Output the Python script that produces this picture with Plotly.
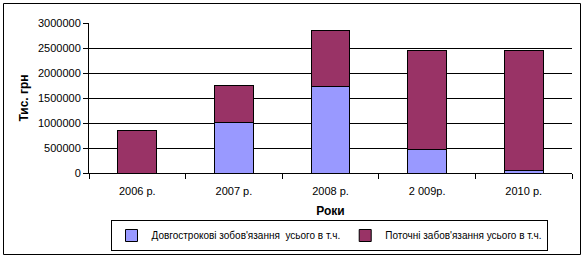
import plotly.graph_objects as go

years = ["2006 р.", "2007 р.", "2008 р.", "2 009р.", "2010 р."]
long_term = [0, 1010000, 1730000, 470000, 55000]
current = [860000, 740000, 1120000, 1980000, 2395000]
names = ["Довгострокові зобов'язання  усього в т.ч.", "Поточні забов'язання усього в т.ч."]

W, H = 585, 259
L, R, T, B = 89, 13, 23, 86
pw, ph = W - L - R, H - T - B

fig = go.Figure()
fig.add_bar(x=years, y=long_term, name=names[0], marker=dict(color="#9999FF", line=dict(color="black", width=1)))
fig.add_bar(x=years, y=current, name=names[1], marker=dict(color="#993366", line=dict(color="black", width=1)))

def px(x):
    return (x - L) / pw

def py(y):
    return (H - B - y) / ph

fig.update_layout(
    width=W, height=H, barmode="stack", bargap=0.6,
    margin=dict(l=L, r=R, t=T, b=B, autoexpand=False),
    paper_bgcolor="white", plot_bgcolor="white",
    font=dict(family="Liberation Sans, Arial, sans-serif", size=11, color="black"),
    showlegend=True,
    legend=dict(orientation="h", x=px(329), y=py(251), xanchor="center", yanchor="bottom",
                bordercolor="black", borderwidth=1, font=dict(size=10),
                itemwidth=30, tracegroupgap=0, traceorder="normal"),
    xaxis=dict(type="category", showline=True, linecolor="black", linewidth=1,
               ticks="outside", tickson="boundaries", ticklen=5, tickcolor="black",
               ticklabelstandoff=8,
               title=dict(text="<b>Роки</b>", font=dict(size=12), standoff=10),
               showgrid=False, zeroline=False, automargin=False),
    yaxis=dict(range=[0, 3000000], dtick=500000, tickformat="d", showline=True,
               linecolor="black", linewidth=1, ticks="outside", ticklen=5, tickcolor="black",
               gridcolor="black", gridwidth=1, zeroline=False, automargin=False,
               title=dict(text="<b>Тис. грн</b>", font=dict(size=12), standoff=6)),
    shapes=[dict(type="rect", xref="paper", yref="paper",
                 x0=px(3.5), x1=px(580.5), y0=py(254.5), y1=py(3.5),
                 line=dict(color="black", width=1), fillcolor="rgba(0,0,0,0)", layer="below")],
)
fig.write_html("out.html")
